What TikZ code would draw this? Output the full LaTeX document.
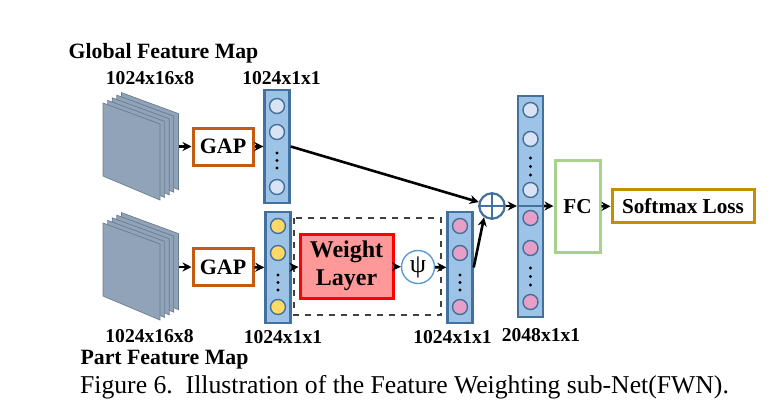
\documentclass[tikz,border=0pt]{standalone}
\usepackage{fontspec}
\setmainfont{Liberation Serif}
\usetikzlibrary{arrows.meta}
\definecolor{slab}{HTML}{90A3B8}
\definecolor{slabedge}{HTML}{6B7C8E}
\definecolor{colfill}{HTML}{9DC3E6}
\definecolor{colline}{HTML}{41719C}
\definecolor{uwhite}{HTML}{DAE3F3}
\definecolor{uyellow}{HTML}{FFD966}
\definecolor{upink}{HTML}{E6A0C8}
\definecolor{gapline}{HTML}{C55A11}
\definecolor{wlfill}{HTML}{FF9999}
\definecolor{psiline}{HTML}{5B9BD5}
\definecolor{fcline}{HTML}{A9D18E}
\definecolor{lossline}{HTML}{BF9000}
\tikzset{
  arr/.style={-{Stealth[length=4.5pt,width=4.5pt]}, line width=1.3pt},
  lbl/.style={font=\bfseries\fontsize{9.8}{11}\selectfont, inner sep=0pt},
  ttl/.style={font=\bfseries\fontsize{10.9}{12}\selectfont, inner sep=0pt},
  col/.style={draw=colline, fill=colfill, line width=1.2pt, minimum width=12.5pt, inner sep=0pt},
  unit/.style={circle, draw=colline, line width=0.7pt, minimum size=7.5pt, inner sep=0pt},
  gapbox/.style={draw=gapline, line width=1.5pt, minimum width=30pt, minimum height=18.5pt, font=\bfseries\fontsize{11}{12}\selectfont},
}
\begin{document}
\begin{tikzpicture}[x=0.5pt,y=-0.5pt]
  \useasboundingbox (0,0) rectangle (784,413);
  % feature maps
  \foreach \yy in {0,120}
    \foreach \i in {4,3,2,1,0}
      \draw[shift={(4.6*\i,\yy-2.6*\i)}, fill=slab, draw=slabedge, line width=0.35pt]
        (103,103) -- (160,124) -- (160,200) -- (103,176) -- cycle;
  \coordinate (stackG) at (179,146.5);
  \coordinate (stackP) at (179,267);
  % GAP
  \node[gapbox] (gapG) at (223,146.5) {GAP};
  \node[gapbox] (gapP) at (223,267) {GAP};
  % global column
  \node[col, minimum height=56.5pt] (colG) at (277,146.5) {};
  \foreach \y/\n in {106/1,132/2,187/3}
    \node[unit, fill=uwhite] (g\n) at (277,\y) {};
  \foreach \y in {153,160.5,168}
    \fill (277,\y) circle (0.8pt);
  % part column
  \node[col, minimum height=55.5pt] (colP) at (278,267.5) {};
  \foreach \y/\n in {226/1,253/2,307/3}
    \node[unit, fill=uyellow] (p\n) at (278,\y) {};
  \foreach \y in {275,282.5,290}
    \fill (278,\y) circle (0.8pt);
  % weighting
  \draw[dashed, line width=0.6pt, draw=black!75] (294,218) rectangle (441,315);
  \node[draw=red, fill=wlfill, line width=1.5pt, minimum width=46.5pt, minimum height=32pt,
    align=center, inner sep=0pt, font=\bfseries\fontsize{12}{14}\selectfont] (wl) at (346.5,266) {Weight\\Layer};
  \node[circle, draw=psiline, line width=0.7pt, minimum size=16.5pt, inner sep=0pt,
    font=\fontsize{13}{14}\selectfont] (psi) at (418,267) {ψ};
  % weighted column
  \node[col, minimum height=55.5pt] (colW) at (460,267.5) {};
  \foreach \y/\n in {226/1,253/2,307/3}
    \node[unit, fill=upink] (w\n) at (460,\y) {};
  \foreach \y in {275,282.5,290}
    \fill (460,\y) circle (0.8pt);
  % concat
  \node[circle, draw=colline, line width=1.1pt, minimum size=12.7pt, inner sep=0pt] (plus) at (492,206) {};
  \draw[colline, line width=1.1pt] (plus.north) -- (plus.south) (plus.west) -- (plus.east);
  \node[col, minimum height=110.5pt] (colC) at (530.5,206.5) {};
  \draw[colline, line width=1.1pt] (colC.west |- plus) -- (colC.east |- plus);
  \foreach \y/\n in {110/1,139/2,190/3}
    \node[unit, fill=uwhite] (c\n) at (530.5,\y) {};
  \foreach \y/\n in {218/4,248/5,302/6}
    \node[unit, fill=upink] (c\n) at (530.5,\y) {};
  \foreach \y in {158,166.5,175,268,276.5,285}
    \fill (530.5,\y) circle (0.8pt);
  % classifier
  \node[draw=fcline, line width=1.5pt, minimum width=22.5pt, minimum height=46pt,
    font=\bfseries\fontsize{10.6}{12}\selectfont] (fc) at (577.5,206.5) {FC};
  \node[draw=lossline, line width=1.5pt, minimum width=71pt, minimum height=16.5pt,
    font=\bfseries\fontsize{10.6}{12}\selectfont] (loss) at (683,206) {Softmax Loss};
  % arrows
  \draw[arr] (stackG) -- (gapG);
  \draw[arr] (stackP) -- (gapP);
  \draw[arr] (gapG) -- (colG);
  \draw[arr] (gapP) -- (colP);
  \draw[arr] (colP) -- (wl);
  \draw[arr] (wl) -- (psi);
  \draw[arr] (psi) -- (colW);
  \draw[arr] (colG.east) -- (plus);
  \draw[arr] (colW.east) -- (plus.235);
  \draw[arr] (plus) -- (colC.west |- plus);
  \draw[arr] (colC.east |- plus) -- (fc);
  \draw[arr] (fc) -- (loss);
  % labels
  \node[ttl] (tG) at (163.5,53) {Global Feature Map};
  \node[lbl] (sG) at (150,78) {1024x16x8};
  \node[lbl] (sG1) at (281.5,78) {1024x1x1};
  \node[lbl] (sP) at (149.5,336) {1024x16x8};
  \node[lbl] (sP1) at (283,337) {1024x1x1};
  \node[lbl] (sW) at (452.5,337) {1024x1x1};
  \node[lbl] (sC) at (541,335) {2048x1x1};
  \node[ttl] (tP) at (164.5,360) {Part Feature Map};
  \node[inner sep=0pt, font=\fontsize{12.85}{14}\selectfont] (cap) at (404.5,387)
    {Figure 6.\ \ Illustration of the Feature Weighting sub-Net(FWN).};
\end{tikzpicture}
\end{document}
